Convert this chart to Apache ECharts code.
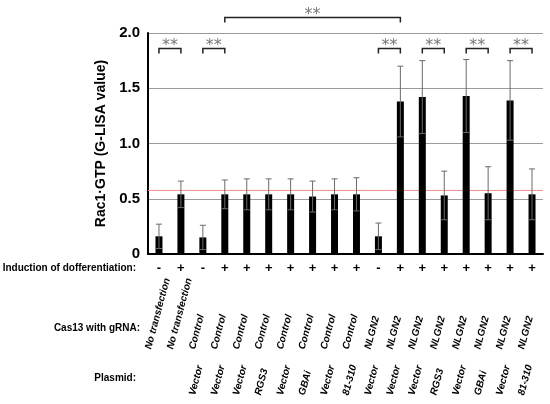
<!DOCTYPE html>
<html>
<head>
<meta charset="utf-8">
<script src="https://cdn.jsdelivr.net/npm/echarts@6/dist/echarts.min.js"></script>
<style>
  html, body { margin: 0; padding: 0; background: #fff; }
  #chart { width: 550px; height: 404px; }
</style>
</head>
<body>
<div id="chart"></div>
<script>
const induction = ['-', '+', '-', '+', '+', '+', '+', '+', '+', '+', '-', '+', '+', '+', '+', '+', '+', '+']
const cas13 = ['No transfection', 'No transfection', 'Control', 'Control', 'Control', 'Control', 'Control', 'Control', 'Control', 'Control',
  'NLGN2', 'NLGN2', 'NLGN2', 'NLGN2', 'NLGN2', 'NLGN2', 'NLGN2', 'NLGN2']
const plasmid = ['', '', 'Vector', 'Vector', 'Vector', 'RGS3', 'Vector', 'GBAi', 'Vector', '81-310',
  'Vector', 'Vector', 'Vector', 'RGS3', 'Vector', 'GBAi', 'Vector', '81-310']
const values = [0.16, 0.54, 0.15, 0.54, 0.54, 0.54, 0.54, 0.52, 0.54, 0.54, 0.16, 1.38, 1.42, 0.53, 1.43, 0.55, 1.39, 0.54]
const errors = [0.11, 0.12, 0.11, 0.13, 0.14, 0.14, 0.14, 0.14, 0.14, 0.15, 0.12, 0.32, 0.33, 0.22, 0.33, 0.24, 0.36, 0.23]
const refLine = 0.575
// significance brackets: [from bar, to bar, height]
const sigPairs = [[0, 1, 1.86], [2, 3, 1.86], [3, 11, 2.14], [10, 11, 1.86], [12, 13, 1.86], [14, 15, 1.86], [16, 17, 1.86]]
const sigText = '**'

const FONT = "'Liberation Sans', Arial, sans-serif"

const chart = echarts.init(document.getElementById('chart'), null, { renderer: 'canvas' })

// rotated label rows under the axis
function rowAxis(data, margin) {
  return {
    type: 'category',
    position: 'bottom',
    offset: 0,
    data: data,
    axisLine: { show: false },
    axisTick: { show: false },
    splitLine: { show: false },
    axisLabel: {
      interval: 0,
      rotate: 75,
      align: 'left',
      verticalAlign: 'bottom',
      padding: [0, 0, 6, 0],
      margin: margin,
      color: '#000',
      fontFamily: FONT,
      fontSize: 10,
      fontWeight: 'bold',
      fontStyle: 'italic'
    }
  }
}

const option = {
  animation: false,
  backgroundColor: '#fff',
  grid: {
    left: 148,
    right: 7,
    top: 33,
    bottom: 150,
    containLabel: false,
    outerBoundsMode: 'none'
  },
  xAxis: [{
    type: 'category',
    data: induction,
    axisLine: { lineStyle: { color: '#000', width: 2 } },
    axisTick: { show: false },
    axisLabel: {
      interval: 0,
      margin: 8,
      color: '#000',
      fontFamily: FONT,
      fontSize: 13,
      fontWeight: 'bold'
    }
  }, rowAxis(cas13, 98), rowAxis(plasmid, 144)],
  yAxis: {
    type: 'value',
    min: 0,
    max: 2,
    interval: 0.5,
    name: 'Rac1·GTP (G-LISA value)',
    nameLocation: 'middle',
    nameGap: 36,
    nameTextStyle: {
      color: '#000',
      fontFamily: FONT,
      fontSize: 14,
      fontWeight: 'bold'
    },
    axisLine: { show: true, lineStyle: { color: '#000', width: 2 } },
    axisTick: { show: false },
    axisLabel: {
      margin: 8,
      color: '#000',
      fontFamily: FONT,
      fontSize: 15,
      fontWeight: 'bold',
      formatter: v => v === 0 ? '0' : v.toFixed(1)
    },
    splitLine: { lineStyle: { color: '#9a9a9a', width: 1 } }
  },
  graphic: [
    { type: 'text', x: 136, y: 268, style: { text: 'Induction of dofferentiation:', align: 'right', verticalAlign: 'middle', fill: '#000', font: 'bold 10px ' + FONT } },
    { type: 'text', x: 140, y: 328, style: { text: 'Cas13 with gRNA:', align: 'right', verticalAlign: 'middle', fill: '#000', font: 'bold 10px ' + FONT } },
    { type: 'text', x: 136, y: 378, style: { text: 'Plasmid:', align: 'right', verticalAlign: 'middle', fill: '#000', font: 'bold 10px ' + FONT } }
  ],
  series: [{
    // reference level across the whole plot
    type: 'custom',
    data: [[0, refLine]],
    encode: { x: 0, y: 1 },
    z: 1,
    renderItem(params, api) {
      const sys = params.coordSys
      const y = api.coord([0, api.value(1)])[1]
      return {
        type: 'line',
        shape: { x1: sys.x, y1: y, x2: sys.x + sys.width, y2: y },
        style: { stroke: '#f09090', lineWidth: 1 }
      }
    }
  }, {
    type: 'bar',
    data: values,
    barWidth: 7,
    z: 2,
    itemStyle: { color: '#000' }
  }, {
    // error bars
    type: 'custom',
    data: values.map((v, i) => [i, v, errors[i]]),
    encode: { x: 0, y: 1 },
    z: 3,
    renderItem(params, api) {
      const i = api.value(0)
      const top = api.coord([i, api.value(1) + api.value(2)])
      const bottom = api.coord([i, api.value(1) - api.value(2)])
      const cap = 3
      const style = { stroke: '#6a6a6a', lineWidth: 1 }
      return {
        type: 'group',
        children: [
          { type: 'line', shape: { x1: top[0], y1: top[1], x2: bottom[0], y2: bottom[1] }, style },
          { type: 'line', shape: { x1: top[0] - cap, y1: top[1], x2: top[0] + cap, y2: top[1] }, style },
          { type: 'line', shape: { x1: bottom[0] - cap, y1: bottom[1], x2: bottom[0] + cap, y2: bottom[1] }, style }
        ]
      }
    }
  }, {
    // significance brackets
    type: 'custom',
    data: sigPairs,
    encode: { x: [0, 1], y: 2 },
    clip: false,
    z: 4,
    renderItem(params, api) {
      const a = api.coord([api.value(0), api.value(2)])
      const b = api.coord([api.value(1), api.value(2)])
      const leg = 5
      return {
        type: 'group',
        children: [{
          type: 'polyline',
          shape: { points: [[a[0], a[1] + leg], [a[0], a[1]], [b[0], b[1]], [b[0], b[1] + leg]] },
          style: { stroke: '#222', lineWidth: 1.5, fill: null }
        }, {
          type: 'text',
          x: (a[0] + b[0]) / 2,
          y: a[1] + 5,
          style: {
            text: sigText,
            fill: '#777',
            fontFamily: 'DejaVu Sans',
            fontSize: 16,
            align: 'center',
            verticalAlign: 'bottom'
          }
        }]
      }
    }
  }]
}

chart.setOption(option)
</script>
</body>
</html>
